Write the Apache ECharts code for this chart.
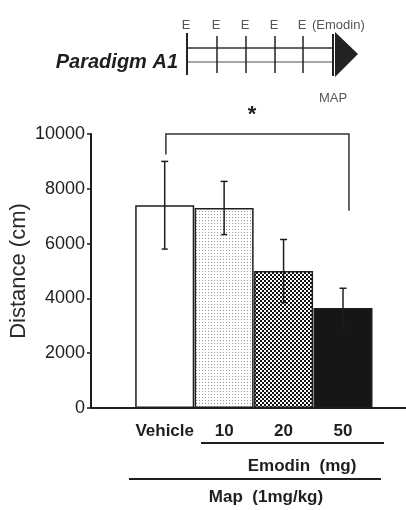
<!DOCTYPE html>
<html>
<head>
<meta charset="utf-8">
<script src="https://cdn.jsdelivr.net/npm/echarts@6/dist/echarts.min.js"></script>
<style>
html,body{margin:0;padding:0;background:#fff;}
#chart{width:406px;height:510px;}
</style>
</head>
<body>
<div id="chart"></div>
<script>
// ---- data ----
const categories = ['Vehicle', '10', '20', '50'];
const means = [7400, 7300, 5000, 3650];
const errors = [1600, 970, 1150, 720];
const yTickValues = [0, 2000, 4000, 6000, 8000, 10000];
const groupLabel = 'Emodin  (mg)';
const outerLabel = 'Map  (1mg/kg)';
const yAxisName = 'Distance (cm)';
const paradigmTitle = 'Paradigm A1';
const timelineLabels = ['E', 'E', 'E', 'E', 'E'];
const timelineNote = '(Emodin)';
const mapLabel = 'MAP';
const significance = '*';
// significance bracket: between Vehicle and 50 groups
const bracketX = [1.02, 4.1];
const bracketY = [9250, 10000, 10000, 7200];
const starPos = [2.47, 10700];

const FONT = '"Liberation Sans", Arial, sans-serif';
const INK = '#1e1e1e';

function makePattern(size, draw) {
  const c = document.createElement('canvas');
  c.width = size; c.height = size;
  const ctx = c.getContext('2d');
  ctx.fillStyle = '#ffffff';
  ctx.fillRect(0, 0, size, size);
  draw(ctx);
  return c;
}
const dotPattern = makePattern(3, ctx => { ctx.fillStyle = '#9a9a9a'; ctx.fillRect(1, 1, 1, 1); });
const checkPattern = makePattern(4, ctx => { ctx.fillStyle = '#111'; ctx.fillRect(0, 0, 2, 2); ctx.fillRect(2, 2, 2, 2); });

const fills = [
  '#ffffff',
  { image: dotPattern, repeat: 'repeat' },
  { image: checkPattern, repeat: 'repeat' },
  '#161616'
];

const chart = echarts.init(document.getElementById('chart'), null, { renderer: 'canvas' });

const barData = means.map((m, i) => ({
  value: [i + 1, m],
  itemStyle: { color: fills[i], borderColor: INK, borderWidth: 1.5 }
}));
const errData = means.map((m, i) => [i + 1, m, errors[i]]);

function T(text, x, y, size, opts) {
  return {
    type: 'text',
    style: Object.assign({
      text: text, x: x, y: y,
      fontFamily: FONT, fontSize: size,
      fill: INK, align: 'center', verticalAlign: 'middle'
    }, opts || {})
  };
}
function L(x1, y1, x2, y2, w, color) {
  return { type: 'line', shape: { x1, y1, x2, y2 }, style: { stroke: color || INK, lineWidth: w || 2 } };
}

const tickXs = [187, 217, 246, 275, 303];
const graphics = [];
// timeline diagram
graphics.push(T(paradigmTitle, 178, 62, 20, { fontWeight: 'bold', fontStyle: 'italic', align: 'right' }));
graphics.push(L(187, 48, 334, 48, 1.6, '#333'));
graphics.push(L(187, 62, 334, 62, 1.4, '#888'));
tickXs.forEach((x, i) => {
  graphics.push(L(x, i === 0 ? 33 : 36, x, i === 0 ? 75 : 73, i === 0 ? 2 : 1.5, '#222'));
  graphics.push(T(timelineLabels[i], x - 1, 25, 13, { fill: '#555' }));
});
graphics.push(T(timelineNote, 312, 25, 13, { fill: '#555', align: 'left' }));
graphics.push(L(333, 34, 333, 76, 2, '#222'));
graphics.push({ type: 'polygon', shape: { points: [[335, 32], [358, 54], [335, 77]] }, style: { fill: '#222' } });
graphics.push(T(mapLabel, 333, 98, 13, { fill: '#555' }));
// group labels under the axis
graphics.push(L(201, 443, 384, 443, 2));
graphics.push(T(groupLabel, 302, 466, 17, { fontWeight: 'bold' }));
graphics.push(L(129, 479, 381, 479, 2));
graphics.push(T(outerLabel, 266, 497, 17, { fontWeight: 'bold' }));

chart.setOption({
  animation: false,
  backgroundColor: '#ffffff',
  grid: { left: 91, right: 0, top: 134, bottom: 102, outerBoundsMode: 'none', containLabel: false },
  xAxis: {
    type: 'value',
    min: -0.24, max: 5.06,
    splitLine: { show: false },
    axisLine: { show: true, onZero: false, lineStyle: { color: INK, width: 2 } },
    axisTick: { show: false },
    axisLabel: {
      customValues: categories.map((c, i) => i + 1),
      formatter: v => categories[Math.round(v) - 1] || '',
      margin: 15,
      color: INK, fontFamily: FONT, fontSize: 17, fontWeight: 'bold'
    }
  },
  yAxis: {
    type: 'value',
    min: 0, max: 10000, interval: 2000,
    name: yAxisName,
    nameLocation: 'middle',
    nameGap: 61,
    nameMoveOverlap: false,
    nameTextStyle: { color: '#2a2a2a', fontFamily: FONT, fontSize: 22 },
    splitLine: { show: false },
    axisLine: { show: true, onZero: false, lineStyle: { color: INK, width: 2 } },
    axisTick: { show: true, inside: false, length: 4, lineStyle: { color: INK, width: 1.5 } },
    axisLabel: { color: INK, fontFamily: FONT, fontSize: 18, margin: 6,
      formatter: v => String(v) }
  },
  graphic: graphics,
  series: [
    {
      type: 'bar',
      data: barData,
      barWidth: 59,
      z: 2
    },
    {
      type: 'custom',
      z: 5,
      data: errData,
      encode: { x: 0, y: 1 },
      renderItem: function (params, api) {
        const x = api.value(0), m = api.value(1), e = api.value(2);
        const top = api.coord([x, m + e]);
        const bot = api.coord([x, m - e]);
        const st = { stroke: INK, lineWidth: 1.5 };
        return {
          type: 'group',
          children: [
            { type: 'line', shape: { x1: top[0], y1: top[1], x2: bot[0], y2: bot[1] }, style: st },
            { type: 'line', shape: { x1: top[0] - 3.5, y1: top[1], x2: top[0] + 3.5, y2: top[1] }, style: st },
            { type: 'line', shape: { x1: bot[0] - 3, y1: bot[1], x2: bot[0] + 3, y2: bot[1] }, style: st }
          ]
        };
      }
    },
    {
      type: 'custom',
      z: 6,
      clip: false,
      data: [0],
      renderItem: function (params, api) {
        const p0 = api.coord([bracketX[0], bracketY[0]]);
        const p1 = api.coord([bracketX[0], bracketY[1]]);
        const p2 = api.coord([bracketX[1], bracketY[2]]);
        const p3 = api.coord([bracketX[1], bracketY[3]]);
        const s = api.coord(starPos);
        return {
          type: 'group',
          children: [
            { type: 'polyline', shape: { points: [p0, p1, p2, p3] }, style: { stroke: '#333', lineWidth: 1.5, fill: null } },
            { type: 'text', style: { text: significance, x: s[0], y: s[1], fontFamily: FONT, fontSize: 22, fontWeight: 'bold', fill: INK, align: 'center', verticalAlign: 'middle' } }
          ]
        };
      }
    }
  ]
});
</script>
</body>
</html>
